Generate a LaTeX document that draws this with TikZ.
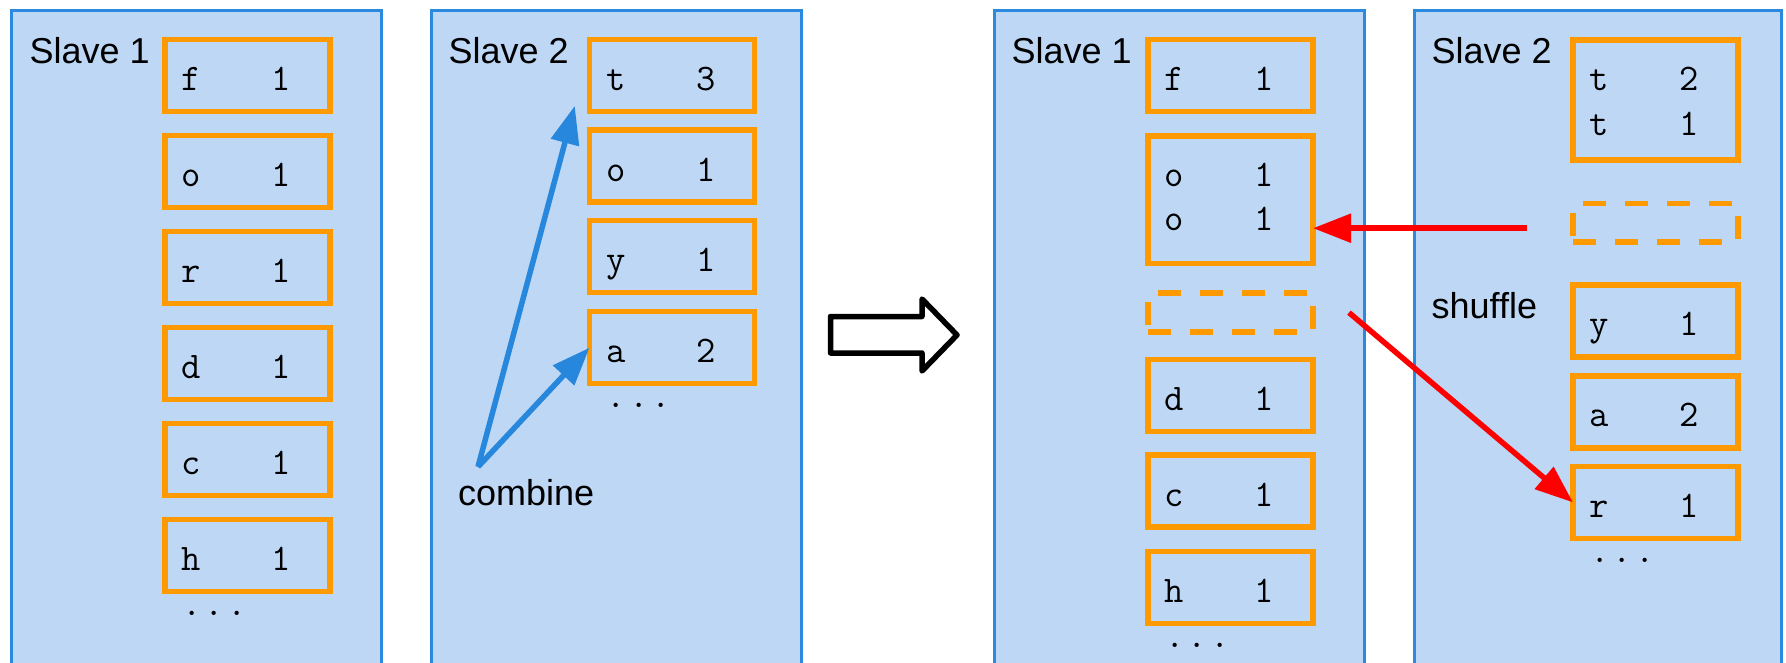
\documentclass[tikz,border=0pt]{standalone}
\usepackage{fontspec}
\setmainfont{Liberation Sans}
\usetikzlibrary{arrows.meta,calc}
\definecolor{panelfill}{RGB}{189,215,245}
\definecolor{panelline}{RGB}{43,137,222}
\definecolor{arrblue}{RGB}{38,135,220}
\definecolor{kvorange}{RGB}{255,153,0}
\definecolor{arrred}{RGB}{255,0,0}
\newcommand\kvpair[2]{\makebox[90pt][l]{#1}#2}
\newcommand\threedots{\makebox[22.5pt]{.}\makebox[22.5pt]{.}\makebox[22.5pt]{.}}
\begin{document}
\begin{tikzpicture}[x=1pt,y=-1pt,
 panel/.style={draw=panelline, line width=3pt, fill=panelfill},
 kbox/.style={draw=kvorange, line width=5.5pt, fill=panelfill, rectangle, minimum width=165pt, minimum height=72pt, inner sep=0pt, outer sep=0pt},
 kdash/.style={kbox, dash pattern=on 23pt off 19pt, minimum height=38.8pt},
 kvt/.style={anchor=base west, inner sep=0pt, font=\ttfamily\fontsize{37.5pt}{44.3pt}\selectfont},
 ttl/.style={anchor=base west, inner sep=0pt, font=\fontsize{36pt}{43pt}\selectfont},
 dotsty/.style={anchor=base, inner sep=0pt, font=\ttfamily\fontsize{37.5pt}{44pt}\selectfont},
 barrow/.style={draw=arrblue, line width=5.5pt, -{Triangle[length=38pt,width=28pt]}},
 rarrow/.style={draw=arrred, line width=5.5pt, -{Triangle[length=38pt,width=28pt]}},
 big arrow/.style={draw=black, line width=5.5pt, line join=round, fill=white},
]
\useasboundingbox (0,0) rectangle (1786,662);
\clip (0,0) rectangle (1786,662);

% panels
\draw[panel] (11.5,10.8) rectangle (381.5,700);
\draw[panel] (431.5,10.8) rectangle (801.5,700);
\draw[panel] (994.5,10.8) rectangle (1364.5,700);
\draw[panel] (1414.5,10.8) rectangle (1781.5,700);

% titles
\node[ttl] (sa) at (29.5,63.5) {Slave 1};
\node[ttl] (sb) at (448.5,63.5) {Slave 2};
\node[ttl] (sc) at (1011.5,63.5) {Slave 1};
\node[ttl] (sd) at (1431.5,63.5) {Slave 2};
\node[ttl] (shuf) at (1431.5,318.8) {shuffle};
\node[ttl] (cb) at (458,505.8) {combine};

% panel A
\node[kbox] (a1) at (247.5,75.5) {};
\node[kbox] (a2) at (247.5,171.5) {};
\node[kbox] (a3) at (247.5,267.5) {};
\node[kbox] (a4) at (247.5,363.5) {};
\node[kbox] (a5) at (247.5,459.5) {};
\node[kbox] (a6) at (247.5,555.5) {};
\node[kvt] (ta1) at ([xshift=16.5pt,yshift=-50.8pt]a1.north west) {\kvpair{f}{1}};
\node[kvt] (ta2) at ([xshift=16.5pt,yshift=-50.8pt]a2.north west) {\kvpair{o}{1}};
\node[kvt] (ta3) at ([xshift=16.5pt,yshift=-50.8pt]a3.north west) {\kvpair{r}{1}};
\node[kvt] (ta4) at ([xshift=16.5pt,yshift=-50.8pt]a4.north west) {\kvpair{d}{1}};
\node[kvt] (ta5) at ([xshift=16.5pt,yshift=-50.8pt]a5.north west) {\kvpair{c}{1}};
\node[kvt] (ta6) at ([xshift=16.5pt,yshift=-50.8pt]a6.north west) {\kvpair{h}{1}};
\node[dotsty] (da) at ([xshift=-33pt,yshift=-24pt]a6.south) {\threedots};

% panel B
\node[kbox] (b1) at (672,75.6) {};
\node[kbox] (b2) at (672,166.2) {};
\node[kbox] (b3) at (672,256.5) {};
\node[kbox] (b4) at (672,347.7) {};
\node[kvt] (tb1) at ([xshift=16.5pt,yshift=-50.8pt]b1.north west) {\kvpair{t}{3}};
\node[kvt] (tb2) at ([xshift=16.5pt,yshift=-50.8pt]b2.north west) {\kvpair{o}{1}};
\node[kvt] (tb3) at ([xshift=16.5pt,yshift=-50.8pt]b3.north west) {\kvpair{y}{1}};
\node[kvt] (tb4) at ([xshift=16.5pt,yshift=-50.8pt]b4.north west) {\kvpair{a}{2}};
\node[dotsty] (db) at ([xshift=-33pt,yshift=-24pt]b4.south) {\threedots};

% panel C
\node[kbox] (c1) at (1230.5,75.6) {};
\node[kbox, minimum height=127.5pt] (c2) at (1230.5,199.5) {};
\node[kdash] (c3) at (1230.5,312.6) {};
\node[kbox] (c4) at (1230.5,395.4) {};
\node[kbox] (c5) at (1230.5,491.2) {};
\node[kbox] (c6) at (1230.5,587.5) {};
\node[kvt] (tc1) at ([xshift=16.5pt,yshift=-50.8pt]c1.north west) {\kvpair{f}{1}};
\node[kvt] (tc2) at ([xshift=16.5pt,yshift=-50.8pt]c2.north west) {\kvpair{o}{1}};
\node[kvt] (tc2b) at ([xshift=16.5pt,yshift=-95.1pt]c2.north west) {\kvpair{o}{1}};
\node[kvt] (tc4) at ([xshift=16.5pt,yshift=-50.8pt]c4.north west) {\kvpair{d}{1}};
\node[kvt] (tc5) at ([xshift=16.5pt,yshift=-50.8pt]c5.north west) {\kvpair{c}{1}};
\node[kvt] (tc6) at ([xshift=16.5pt,yshift=-50.8pt]c6.north west) {\kvpair{h}{1}};
\node[dotsty] (dc) at ([xshift=-33pt,yshift=-24pt]c6.south) {\threedots};

% panel D
\node[kbox, minimum height=119.8pt] (d1) at (1655.5,99.9) {};
\node[kdash] (d2) at (1655.5,222.7) {};
\node[kbox] (d3) at (1655.5,321) {};
\node[kbox] (d4) at (1655.5,411.9) {};
\node[kbox] (d5) at (1655.5,502.4) {};
\node[kvt] (td1) at ([xshift=16.5pt,yshift=-50.8pt]d1.north west) {\kvpair{t}{2}};
\node[kvt] (td1b) at ([xshift=16.5pt,yshift=-95.1pt]d1.north west) {\kvpair{t}{1}};
\node[kvt] (td3) at ([xshift=16.5pt,yshift=-50.8pt]d3.north west) {\kvpair{y}{1}};
\node[kvt] (td4) at ([xshift=16.5pt,yshift=-50.8pt]d4.north west) {\kvpair{a}{2}};
\node[kvt] (td5) at ([xshift=16.5pt,yshift=-50.8pt]d5.north west) {\kvpair{r}{1}};
\node[dotsty] (dd) at ([xshift=-33pt,yshift=-24pt]d5.south) {\threedots};

% combine arrows
\coordinate (cmb) at ([xshift=20pt,yshift=12.7pt]cb.north west);
\coordinate (tiptop) at ([xshift=-14.75pt,yshift=5.75pt]b1.south west);
\draw[barrow] (cmb) -- (tiptop);
\draw[barrow] (cmb) -- (b4.west);

% big hollow arrow
\draw[big arrow] (830.5,316.5) -- (922,316.5) -- (922,299) -- (957,335) -- (922,371) -- (922,353) -- (830.5,353) -- cycle;

% shuffle arrows
\coordinate (r1s) at ([xshift=-46pt,yshift=-5.5pt]d2.west);
\draw[rarrow] (r1s) -- (r1s -| c2.east);
\coordinate (r2s) at ([xshift=36pt]c3.east);
\draw[rarrow] (r2s) -- (d5.west);
\end{tikzpicture}
\end{document}
